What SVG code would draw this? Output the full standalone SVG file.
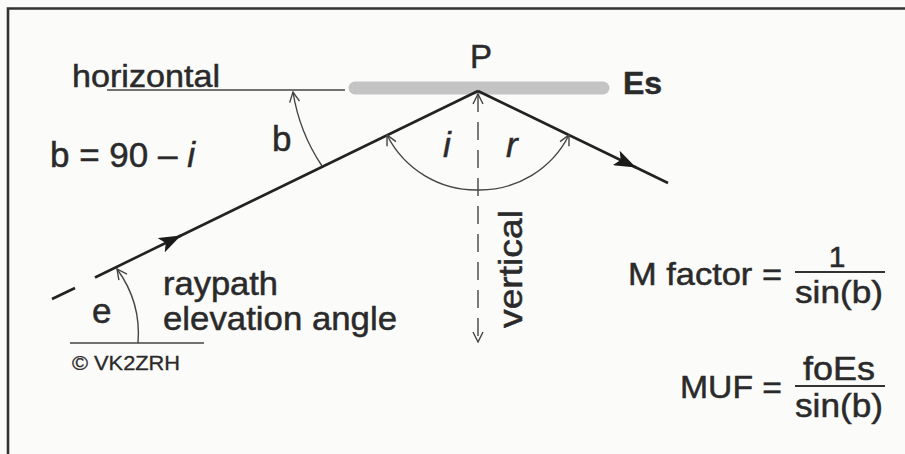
<svg xmlns="http://www.w3.org/2000/svg" width="905" height="454" viewBox="0 0 905 454">
<style>
text{font-family:"Liberation Sans",Arial,sans-serif;fill:#2a2a2a;stroke:#2a2a2a;stroke-width:0.5}
.thin{fill:none;stroke:#444;stroke-width:1.4}
.ray{fill:none;stroke:#222;stroke-width:2.6}
</style>
<defs>
<marker id="chev" viewBox="0 0 12 12" refX="11" refY="6" markerWidth="12" markerHeight="12" markerUnits="userSpaceOnUse" orient="auto-start-reverse">
<path d="M1,1 L11,6 L1,11" fill="none" stroke="#444" stroke-width="1.4"/>
</marker>
<marker id="tri" viewBox="0 0 22 16" refX="22" refY="8" markerWidth="22" markerHeight="16" markerUnits="userSpaceOnUse" orient="auto">
<path d="M0,0 L22,8 L0,16 L5,8 Z" fill="#1a1a1a"/>
</marker>
</defs>
<rect width="905" height="454" fill="#fbfbfa"/>
<path d="M8,454 V8.5 H905" fill="none" stroke="#333" stroke-width="2.6"/>

<g id="horizontal">
<line class="thin" x1="107" y1="90" x2="345" y2="90" stroke="#555"/>
<text x="72" y="87" font-size="32" textLength="148" lengthAdjust="spacingAndGlyphs">horizontal</text>
</g>
<g id="es-layer">
<line x1="355" y1="88" x2="603" y2="88" stroke="#c4c4c4" stroke-width="13" stroke-linecap="round"/>
<text x="623" y="94" font-size="32" font-weight="bold">Es</text>
</g>
<g id="point-p">
<text x="470" y="68" font-size="33">P</text>
</g>
<g id="formula-b">
<text x="50" y="167" font-size="35">b = 90 – <tspan font-style="italic">i</tspan></text>
</g>
<g id="label-b"><text x="272" y="151" font-size="35">b</text></g>
<g id="label-i"><text x="443" y="157" font-size="35" font-style="italic">i</text></g>
<g id="label-r"><text x="506" y="157" font-size="35" font-style="italic">r</text></g>
<g id="label-e"><text x="92" y="323" font-size="35">e</text></g>
<g id="label-raypath">
<text x="163" y="295" font-size="33" textLength="115" lengthAdjust="spacingAndGlyphs">raypath</text>
<text x="163" y="330" font-size="33" textLength="234" lengthAdjust="spacingAndGlyphs">elevation angle</text>
</g>
<g id="ground">
<line class="thin" x1="70" y1="343" x2="204" y2="343" stroke="#555"/>
<text x="72" y="370" font-size="20" textLength="108" lengthAdjust="spacingAndGlyphs" style="stroke-width:0.3">© VK2ZRH</text>
</g>
<g id="vertical-label">
<text transform="translate(522,328) rotate(-90)" font-size="34" textLength="118" lengthAdjust="spacingAndGlyphs">vertical</text>
</g>
<g id="m-factor">
<text x="837" y="267" font-size="30" text-anchor="middle">1</text>
<line x1="795" y1="272" x2="885" y2="272" stroke="#333" stroke-width="2"/>
<text x="628" y="285" font-size="32" textLength="154" lengthAdjust="spacingAndGlyphs">M factor =</text>
<text x="795" y="303" font-size="32" textLength="88" lengthAdjust="spacingAndGlyphs">sin(b)</text>
</g>
<g id="muf">
<text x="680" y="398" font-size="32" textLength="102" lengthAdjust="spacingAndGlyphs">MUF =</text>
<text x="803" y="380" font-size="33" textLength="72" lengthAdjust="spacingAndGlyphs">foEs</text>
<line x1="795" y1="386" x2="885" y2="386" stroke="#333" stroke-width="2"/>
<text x="795" y="417" font-size="33" textLength="88" lengthAdjust="spacingAndGlyphs">sin(b)</text>
</g>

<g id="connectors">
<line class="ray" x1="52" y1="299" x2="75" y2="288"/>
<line class="ray" x1="95" y1="277.5" x2="181" y2="235.5" marker-end="url(#tri)"/>
<line class="ray" x1="178" y1="237" x2="478" y2="91"/>
<line class="ray" x1="478" y1="91" x2="636" y2="167.5" marker-end="url(#tri)"/>
<line class="ray" x1="634" y1="166.5" x2="668" y2="183"/>
<line class="thin" x1="478" y1="94" x2="478" y2="342" stroke-dasharray="18,10" marker-start="url(#chev)" marker-end="url(#chev)"/>
<path class="thin" d="M322,166 A185,185 0 0 1 293,92" marker-end="url(#chev)"/>
<path class="thin" d="M478,190 A100,100 0 0 1 387,135" marker-end="url(#chev)"/>
<path class="thin" d="M478,190 A100,100 0 0 0 569,135" marker-end="url(#chev)"/>
<path class="thin" d="M138,343 A110,110 0 0 0 117,269" marker-end="url(#chev)"/>
</g>
</svg>
